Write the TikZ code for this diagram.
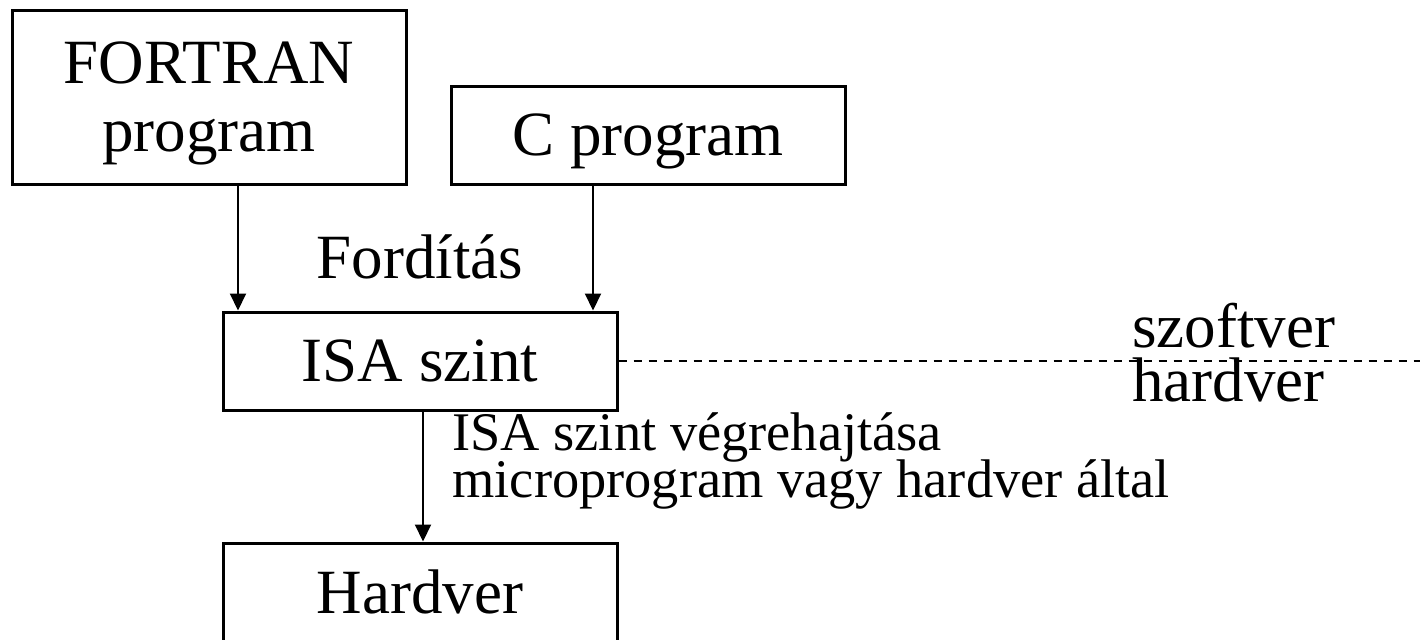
\documentclass[tikz,border=0pt]{standalone}
\usepackage{fontspec}
\setmainfont{Liberation Serif}
\usetikzlibrary{arrows.meta}

\begin{document}
\begin{tikzpicture}[
  x=0.5pt, y=-0.5pt,
  >={Triangle[length=8.5pt,width=8pt]},
  every node/.style={font=\fontsize{31.5}{34}\selectfont},
  box/.style={draw, line width=1.5pt, minimum width=197pt, minimum height=49pt,
    inner sep=0pt, text depth=0pt, align=center},
  flow/.style={->, line width=1pt},
  split/.style={line width=1pt, dash pattern=on 4pt off 3.5pt},
  lbl/.style={anchor=base west, inner sep=0pt}
]
  \useasboundingbox (0,0) rectangle (1420,639);

  % Source programs
  \node[box, minimum height=87pt] (fortran) at (209,97) {FORTRAN\\program};
  \node[box] (cprog) at (648,135) {C program};

  % Levels
  \node[box] (isa) at (420,361) {ISA szint};
  \node[box] (hw)  at (420,592) {Hardver};

  % Columns of the arrows
  \coordinate (fx) at (238,0);
  \coordinate (cx) at (593,0);
  \coordinate (hx) at (423,0);
  \coordinate (rend) at (1420,0);

  % Translation and execution
  \draw[flow] (fortran.south -| fx) -- (isa.north -| fx);
  \draw[flow] (cprog.south -| cx) -- (isa.north -| cx);
  \draw[flow] (isa.south -| hx) -- (hw.north -| hx);

  % Software / hardware border
  \draw[split] (isa.east) -- (isa.east -| rend);

  % Labels
  \node[anchor=base, inner sep=0pt] (forditas) at (420,278) {Fordítás};
  \node[lbl] (szoftver) at (1132,347) {szoftver};
  \node[lbl] (hardver)  at (1132,401) {hardver};
  \node[lbl, font=\fontsize{27.2}{21}\selectfont] (exec1) at (452,450) {ISA szint végrehajtása};
  \node[lbl, font=\fontsize{27.2}{21}\selectfont] (exec2) at (452,497) {microprogram vagy hardver által};
\end{tikzpicture}
\end{document}
